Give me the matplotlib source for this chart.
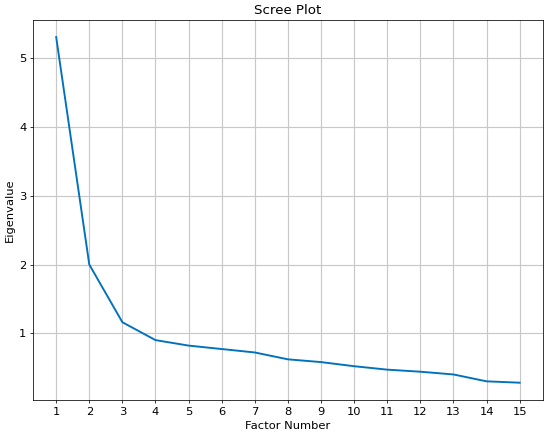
import matplotlib
matplotlib.use("Agg")
import matplotlib.pyplot as plt

# ===== データ =====
factor_numbers = list(range(1, 16))
eigenvalues = [5.31, 2.00, 1.16, 0.90, 0.82, 0.77, 0.72, 0.62, 0.58,
               0.52, 0.47, 0.44, 0.40, 0.30, 0.28]

# ===== グラフ =====
fig = plt.figure(figsize=(8, 6.415), dpi=68.75)
ax = fig.add_axes([0.06, 0.093, 0.927, 0.862])

ax.plot(factor_numbers, eigenvalues, color='#0072BD', linewidth=2)

ax.set_title('Scree Plot', fontsize=14)
ax.set_xlabel('Factor Number', fontsize=12)
ax.set_ylabel('Eigenvalue', fontsize=12)
ax.set_xticks(factor_numbers)
ax.set_yticks([1, 2, 3, 4, 5])
ax.tick_params(labelsize=12)
ax.grid(True, color='#c8c8c8', linewidth=1.2)

fig.savefig('out.png')
